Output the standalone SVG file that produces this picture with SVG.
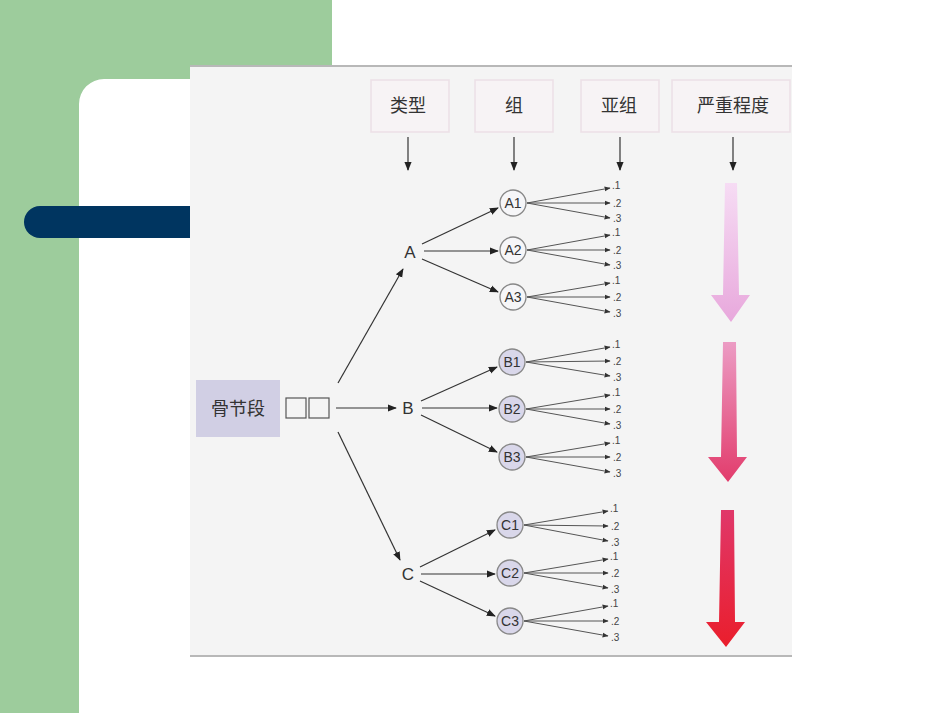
<svg xmlns="http://www.w3.org/2000/svg" width="950" height="713" viewBox="0 0 950 713">
<defs>
<style>
.hdr{font-family:"Noto Sans CJK SC","Liberation Sans",sans-serif;font-size:18px;fill:#333;text-anchor:middle}
.hbox{fill:#f7f3f5;stroke:#ecdfe6;stroke-width:1.5}
.lt{font-family:"Liberation Sans",Arial,sans-serif;font-size:17px;fill:#333;text-anchor:middle}
.nt{font-family:"Liberation Sans",Arial,sans-serif;font-size:14px;fill:#333;text-anchor:middle}
.st{font-family:"Liberation Sans",Arial,sans-serif;font-size:10px;fill:#444}
.ln{stroke:#333;stroke-width:1.2;fill:none}
.fn{stroke:#555;stroke-width:1;fill:none}
.ca{fill:#f6f6f8;stroke:#888;stroke-width:1.3}
.cb{fill:#d9d7ea;stroke:#888;stroke-width:1.3}
</style>
<marker id="ah" viewBox="0 0 10 10" refX="9" refY="5" markerWidth="9" markerHeight="9" markerUnits="userSpaceOnUse" orient="auto"><path d="M0,1 L10,5 L0,9 z" fill="#222"/></marker>
<marker id="as" viewBox="0 0 10 10" refX="9" refY="5" markerWidth="6" markerHeight="6" markerUnits="userSpaceOnUse" orient="auto"><path d="M0,1 L10,5 L0,9 z" fill="#333"/></marker>
<linearGradient id="g1" x1="0" y1="0" x2="0" y2="1"><stop offset="0" stop-color="#f6dcf4"/><stop offset="1" stop-color="#e8a8dc"/></linearGradient>
<linearGradient id="g2" x1="0" y1="0" x2="0" y2="1"><stop offset="0" stop-color="#ec9cc4"/><stop offset="1" stop-color="#e23c6c"/></linearGradient>
<linearGradient id="g3" x1="0" y1="0" x2="0" y2="1"><stop offset="0" stop-color="#e0386a"/><stop offset="1" stop-color="#ea1e2c"/></linearGradient>
</defs>
<rect width="950" height="713" fill="#fff"/>
<path d="M0,0 H332 V79 H104 A25,25 0 0 0 79,104 V713 H0 Z" fill="#9dcc9c"/>
<rect x="24" y="206" width="200" height="32" rx="16" fill="#003560"/>
<rect x="190" y="65" width="602" height="592" fill="#f4f4f4"/>
<line x1="190" y1="66" x2="792" y2="66" stroke="#b8b8b8" stroke-width="2"/>
<line x1="190" y1="656" x2="792" y2="656" stroke="#b8b8b8" stroke-width="2"/>
<g id="headers">
<rect class="hbox" x="371" y="80" width="78" height="52"/><text class="hdr" x="408" y="112">类型</text>
<rect class="hbox" x="475" y="80" width="78" height="52"/><text class="hdr" x="514" y="112">组</text>
<rect class="hbox" x="581" y="80" width="78" height="52"/><text class="hdr" x="619" y="112">亚组</text>
<rect class="hbox" x="672" y="80" width="118" height="52"/><text class="hdr" x="733" y="112">严重程度</text>
</g>
<g id="bone">
<rect x="196" y="380" width="84" height="57" fill="#d1cfe4"/>
<text class="hdr" x="238" y="415">骨节段</text>
<rect x="286" y="398" width="20" height="20" fill="none" stroke="#555" stroke-width="1.2"/>
<rect x="309" y="398" width="20" height="20" fill="none" stroke="#555" stroke-width="1.2"/>
</g>
<g id="A"><text class="lt" x="410" y="258">A</text></g>
<g id="B"><text class="lt" x="408" y="414">B</text></g>
<g id="C"><text class="lt" x="408" y="580">C</text></g>
<g id="A1"><circle class="ca" cx="513" cy="203" r="13"/><text class="nt" x="513" y="208">A1</text></g>
<g id="A2"><circle class="ca" cx="513" cy="250" r="13"/><text class="nt" x="513" y="255">A2</text></g>
<g id="A3"><circle class="ca" cx="513" cy="297" r="13"/><text class="nt" x="513" y="302">A3</text></g>
<g id="B1"><circle class="cb" cx="512" cy="362" r="13"/><text class="nt" x="512" y="367">B1</text></g>
<g id="B2"><circle class="cb" cx="512" cy="409" r="13"/><text class="nt" x="512" y="414">B2</text></g>
<g id="B3"><circle class="cb" cx="512" cy="457" r="13"/><text class="nt" x="512" y="462">B3</text></g>
<g id="C1"><circle class="cb" cx="510" cy="525" r="13"/><text class="nt" x="510" y="530">C1</text></g>
<g id="C2"><circle class="cb" cx="510" cy="573" r="13"/><text class="nt" x="510" y="578">C2</text></g>
<g id="C3"><circle class="cb" cx="510" cy="621" r="13"/><text class="nt" x="510" y="626">C3</text></g>
<g id="severity">
<path d="M725,183 H737 L739,295 H750 L731,322 L711,295 H723 Z" fill="url(#g1)"/>
<path d="M723,342 H736 L737,457 H747 L728,482 L708,457 H721 Z" fill="url(#g2)"/>
<path d="M721,510 H734 L735,622 H745 L726,647 L706,622 H719 Z" fill="url(#g3)"/>
</g>
<g id="connectors">
<line class="ln" x1="408" y1="137" x2="408" y2="170" marker-end="url(#ah)"/>
<line class="ln" x1="514" y1="137" x2="514" y2="170" marker-end="url(#ah)"/>
<line class="ln" x1="620" y1="137" x2="620" y2="170" marker-end="url(#ah)"/>
<line class="ln" x1="733" y1="137" x2="733" y2="170" marker-end="url(#ah)"/>
<line class="ln" x1="336" y1="408" x2="396" y2="408" marker-end="url(#ah)"/>
<line class="ln" x1="338" y1="383" x2="403" y2="269" marker-end="url(#ah)"/>
<line class="ln" x1="338" y1="432" x2="400" y2="560" marker-end="url(#ah)"/>
<line class="ln" x1="422" y1="244" x2="498" y2="208" marker-end="url(#ah)"/>
<line class="ln" x1="424" y1="251" x2="498" y2="251" marker-end="url(#ah)"/>
<line class="ln" x1="422" y1="259" x2="498" y2="292" marker-end="url(#ah)"/>
<line class="ln" x1="421" y1="401" x2="497" y2="367" marker-end="url(#ah)"/>
<line class="ln" x1="422" y1="408" x2="497" y2="408" marker-end="url(#ah)"/>
<line class="ln" x1="421" y1="415" x2="497" y2="452" marker-end="url(#ah)"/>
<line class="ln" x1="420" y1="567" x2="495" y2="530" marker-end="url(#ah)"/>
<line class="ln" x1="421" y1="574" x2="495" y2="574" marker-end="url(#ah)"/>
<line class="ln" x1="420" y1="581" x2="495" y2="616" marker-end="url(#ah)"/>
<g id="fans">
<line class="fn" x1="527" y1="203" x2="610" y2="188" marker-end="url(#as)"/><line class="fn" x1="527" y1="203" x2="610" y2="203" marker-end="url(#as)"/><line class="fn" x1="527" y1="203" x2="610" y2="218" marker-end="url(#as)"/>
<line class="fn" x1="527" y1="250" x2="610" y2="235" marker-end="url(#as)"/><line class="fn" x1="527" y1="250" x2="610" y2="250" marker-end="url(#as)"/><line class="fn" x1="527" y1="250" x2="610" y2="265" marker-end="url(#as)"/>
<line class="fn" x1="527" y1="297" x2="610" y2="283" marker-end="url(#as)"/><line class="fn" x1="527" y1="297" x2="610" y2="297" marker-end="url(#as)"/><line class="fn" x1="527" y1="297" x2="610" y2="312" marker-end="url(#as)"/>
<line class="fn" x1="526" y1="362" x2="610" y2="347" marker-end="url(#as)"/><line class="fn" x1="526" y1="362" x2="610" y2="361" marker-end="url(#as)"/><line class="fn" x1="526" y1="362" x2="610" y2="376" marker-end="url(#as)"/>
<line class="fn" x1="526" y1="409" x2="610" y2="395" marker-end="url(#as)"/><line class="fn" x1="526" y1="409" x2="610" y2="409" marker-end="url(#as)"/><line class="fn" x1="526" y1="409" x2="610" y2="424" marker-end="url(#as)"/>
<line class="fn" x1="526" y1="457" x2="610" y2="443" marker-end="url(#as)"/><line class="fn" x1="526" y1="457" x2="610" y2="457" marker-end="url(#as)"/><line class="fn" x1="526" y1="457" x2="610" y2="472" marker-end="url(#as)"/>
<line class="fn" x1="524" y1="525" x2="608" y2="511" marker-end="url(#as)"/><line class="fn" x1="524" y1="525" x2="608" y2="526" marker-end="url(#as)"/><line class="fn" x1="524" y1="525" x2="608" y2="541" marker-end="url(#as)"/>
<line class="fn" x1="524" y1="573" x2="608" y2="559" marker-end="url(#as)"/><line class="fn" x1="524" y1="573" x2="608" y2="573" marker-end="url(#as)"/><line class="fn" x1="524" y1="573" x2="608" y2="588" marker-end="url(#as)"/>
<line class="fn" x1="524" y1="621" x2="608" y2="606" marker-end="url(#as)"/><line class="fn" x1="524" y1="621" x2="608" y2="621" marker-end="url(#as)"/><line class="fn" x1="524" y1="621" x2="608" y2="636" marker-end="url(#as)"/>
</g>
</g>
<g id="sublabels">
<text class="st" x="612" y="189">.1</text><text class="st" x="613" y="207">.2</text><text class="st" x="613" y="222">.3</text>
<text class="st" x="612" y="236">.1</text><text class="st" x="613" y="254">.2</text><text class="st" x="613" y="269">.3</text>
<text class="st" x="612" y="284">.1</text><text class="st" x="613" y="301">.2</text><text class="st" x="613" y="317">.3</text>
<text class="st" x="612" y="348">.1</text><text class="st" x="613" y="365">.2</text><text class="st" x="613" y="381">.3</text>
<text class="st" x="612" y="396">.1</text><text class="st" x="613" y="413">.2</text><text class="st" x="613" y="429">.3</text>
<text class="st" x="612" y="444">.1</text><text class="st" x="613" y="461">.2</text><text class="st" x="613" y="477">.3</text>
<text class="st" x="610" y="512">.1</text><text class="st" x="611" y="530">.2</text><text class="st" x="611" y="546">.3</text>
<text class="st" x="610" y="560">.1</text><text class="st" x="611" y="577">.2</text><text class="st" x="611" y="593">.3</text>
<text class="st" x="610" y="607">.1</text><text class="st" x="611" y="625">.2</text><text class="st" x="611" y="641">.3</text>
</g>
</svg>
